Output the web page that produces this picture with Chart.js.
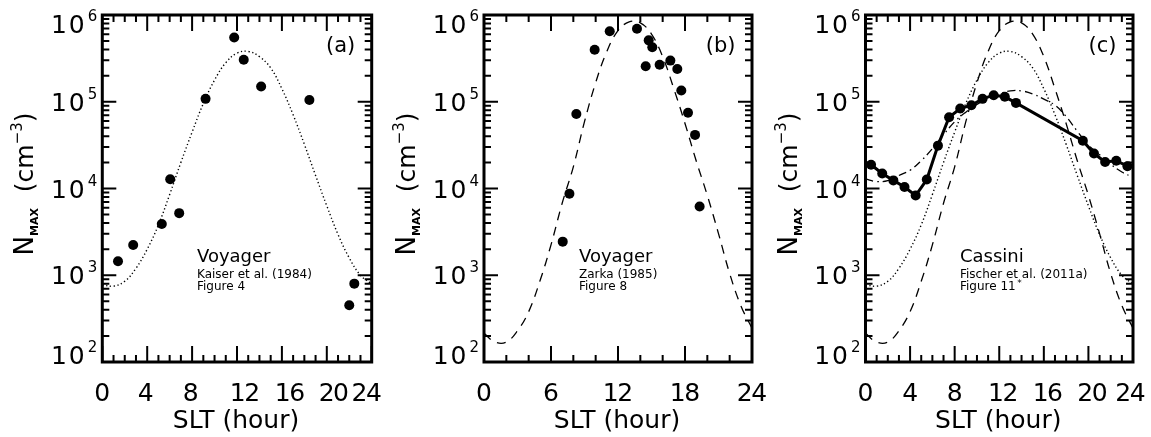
<!DOCTYPE html>
<html>
<head>
<meta charset="utf-8">
<script src="https://cdn.jsdelivr.net/npm/chart.js@4.4.1/dist/chart.umd.min.js"></script>
<style>
  html, body { margin: 0; padding: 0; background: #fff; }
  #wrap { position: relative; width: 1151px; height: 437px; overflow: hidden; background: #fff; }
  #wrap canvas { position: absolute; left: 0; top: 0; }
</style>
</head>
<body>
<div id="wrap">
  <canvas id="pa" width="1151" height="437"></canvas>
  <canvas id="pb" width="1151" height="437"></canvas>
  <canvas id="pc" width="1151" height="437"></canvas>
</div>
<script>
// ---------------------------------------------------------------
// Data
// ---------------------------------------------------------------
// Model curves sampled once per hour of Saturn local time (log10 N_MAX)
const curveHours = [0,1,2,3,4,5,6,7,8,9,10,11,12,13,14,15,16,17,18,19,20,21,22,23,24];
const dottedLog10 = [2.89,2.875,2.93,3.08,3.30,3.58,3.93,4.30,4.65,4.98,5.25,5.45,5.56,5.58,5.52,5.39,5.15,4.85,4.51,4.15,3.80,3.47,3.20,3.00,2.90];
const dashedLog10 = [2.33,2.23,2.23,2.36,2.58,2.93,3.35,3.83,4.25,4.77,5.22,5.58,5.82,5.92,5.91,5.78,5.52,5.15,4.75,4.32,3.92,3.48,3.02,2.65,2.39];
const dashDotLog10 = [4.11,4.08,4.09,4.15,4.21,4.32,4.46,4.62,4.77,4.88,4.97,5.04,5.09,5.125,5.125,5.09,5.03,4.96,4.83,4.66,4.50,4.39,4.28,4.19,4.13];

// Voyager, Kaiser et al. (1984)
const aHours = [1.4, 2.75, 5.3, 6.05, 6.85, 9.2, 11.75, 12.6, 14.15, 18.45, 22.0, 22.45];
const aNmax  = [1450, 2230, 3900, 12800, 5200, 108000, 550000, 305000, 150000, 105000, 450, 800];

// Voyager, Zarka (1985)
const bHours = [7.05, 7.65, 8.27, 9.91, 11.26, 13.7, 14.48, 14.75, 15.07, 15.73, 16.69, 17.31, 17.67, 18.27, 18.9, 19.31];
const bNmax  = [2440, 8700, 72300, 398000, 649000, 695000, 256000, 510000, 425000, 267000, 298000, 239000, 135000, 74800, 41500, 6200];

// Cassini, Fischer et al. (2011a)
const cHours = [0.5,1.5,2.5,3.5,4.5,5.5,6.5,7.5,8.5,9.5,10.5,11.5,12.5,13.5,19.5,20.5,21.5,22.5,23.5];
const cNmax  = [18800,14900,12400,10400,8300,12700,31200,66300,83400,91200,108000,119000,114000,97000,35600,25300,20200,20900,18100];

// Axis ticks
const xTicksAC = [0, 4, 8, 12, 16, 20, 24];
const xTicksB  = [0, 6, 12, 18, 24];
const yDecades = [2, 3, 4, 5, 6];

// ---------------------------------------------------------------
// Helpers
// ---------------------------------------------------------------
const W = 1151, H = 437;
const PLOT_TOP = 15, PLOT_BOTTOM = 362;
const FONT = '"DejaVu Sans", "Liberation Sans", sans-serif';

function pts(xs, ys) { return xs.map((x, i) => ({ x: x, y: ys[i] })); }
function logPts(xs, ls) { return xs.map((x, i) => ({ x: x, y: Math.pow(10, ls[i]) })); }

const curveStyles = {
  dotted:  { borderDash: [1.3, 2.5], borderWidth: 1.4 },
  dashed:  { borderDash: [9, 7],     borderWidth: 1.3 },
  dashDot: { borderDash: [8, 4, 1.5, 4], borderWidth: 1.3 }
};

function curve(data, style) {
  return Object.assign({
    data: data, showLine: true, borderColor: '#000', pointRadius: 0,
    tension: 0.4, fill: false, order: 2
  }, curveStyles[style]);
}
function dots(data) {
  return {
    data: data, showLine: false, pointRadius: 5, pointHoverRadius: 5,
    pointBackgroundColor: '#000', pointBorderColor: '#000', pointBorderWidth: 0, order: 0
  };
}

// Box, inward ticks, tick labels, titles and annotation text
const framePlugin = {
  id: 'frame',
  afterDatasetsDraw(chart, args, o) {
    const ctx = chart.ctx, a = chart.chartArea;
    const xs = chart.scales.x, ys = chart.scales.y;
    ctx.save();
    ctx.strokeStyle = '#000';
    ctx.fillStyle = '#000';
    ctx.lineCap = 'butt';

    // ticks on all four sides
    ctx.lineWidth = 2;
    ctx.beginPath();
    for (let h = 0; h <= 24; h += o.xMinor) {
      const px = xs.getPixelForValue(h);
      const len = (h % o.xMajor === 0) ? 16 : 7;
      ctx.moveTo(px, a.bottom); ctx.lineTo(px, a.bottom - len);
      ctx.moveTo(px, a.top);    ctx.lineTo(px, a.top + len);
    }
    yDecades.forEach(e => {
      for (let m = 1; m <= 9; m++) {
        if (e === yDecades[yDecades.length - 1] && m > 1) break;
        const py = ys.getPixelForValue(m * Math.pow(10, e));
        const len = (m === 1) ? 14 : 7;
        ctx.moveTo(a.left, py);  ctx.lineTo(a.left + len, py);
        ctx.moveTo(a.right, py); ctx.lineTo(a.right - len, py);
      }
    });
    ctx.stroke();

    // plot box
    ctx.lineWidth = 3;
    ctx.strokeRect(a.left, a.top, a.right - a.left, a.bottom - a.top);

    // x tick labels
    ctx.font = '25px ' + FONT;
    ctx.textAlign = 'center';
    ctx.textBaseline = 'alphabetic';
    ctx.letterSpacing = '-1.5px';
    o.xTicks.forEach(t => {
      const shift = (o.xShift && o.xShift[t]) || 0;
      ctx.fillText(String(t), xs.getPixelForValue(t) + shift - 0.75, 401);
    });
    ctx.letterSpacing = '0px';

    // y tick labels: 10 with superscript exponent
    yDecades.forEach(e => {
      const py = ys.getPixelForValue(Math.pow(10, e));
      const mid = Math.min(Math.max(py, a.top + 9), a.bottom - 7);
      const base = mid + 9;
      const xr = a.left - 5;
      ctx.textAlign = 'right';
      ctx.font = '15px ' + FONT;
      const ew = ctx.measureText(String(e)).width;
      ctx.fillText(String(e), xr, base - 12);
      ctx.font = '25px ' + FONT;
      ctx.letterSpacing = '2px';
      ctx.fillText('10', xr - ew - 1, base);
      ctx.letterSpacing = '0px';
    });

    // x title
    ctx.textAlign = 'center';
    ctx.font = '25px ' + FONT;
    ctx.fillText('SLT (hour)', (a.left + a.right) / 2 - 1, 428);

    // y title, rotated
    const segs = [
      { t: 'N',   f: '26px ' + FONT,      dy: 0 },
      { t: 'MAX', f: 'bold 11px ' + FONT, dy: 5 },
      { t: '  (cm', f: '25px ' + FONT,    dy: 0 },
      { t: '\u22123', f: '15px ' + FONT,  dy: -11 },
      { t: ')',   f: '25px ' + FONT,      dy: 0 }
    ];
    ctx.save();
    ctx.translate(a.left - 69, 184);
    ctx.rotate(-Math.PI / 2);
    ctx.textAlign = 'left';
    let total = 0;
    segs.forEach(s => { ctx.font = s.f; s.w = ctx.measureText(s.t).width; total += s.w; });
    let cx = -total / 2;
    segs.forEach(s => { ctx.font = s.f; ctx.fillText(s.t, cx, s.dy); cx += s.w; });
    ctx.restore();

    // panel letter
    ctx.textAlign = 'right';
    ctx.font = '21px ' + FONT;
    ctx.fillText(o.letter, a.right - 16.5, 52);

    // source annotation
    ctx.textAlign = 'left';
    ctx.font = '18px ' + FONT;
    ctx.fillText(o.mission, o.noteX, 261.5);
    ctx.font = '12px ' + FONT;
    ctx.fillText(o.ref, o.noteX, 277.5);
    ctx.fillText(o.fig, o.noteX, 290);
    if (o.figMark) {
      const fw = ctx.measureText(o.fig).width;
      ctx.font = '9px ' + FONT;
      ctx.fillText(o.figMark, o.noteX + fw + 1.5, 286);
    }
    ctx.restore();
  }
};

function makePanel(id, left, right, datasets, frameOpts) {
  return new Chart(document.getElementById(id), {
    type: 'line',
    data: { datasets: datasets },
    options: {
      responsive: false,
      animation: false,
      devicePixelRatio: 1,
      events: [],
      layout: { padding: { left: left, right: W - right, top: PLOT_TOP, bottom: H - PLOT_BOTTOM } },
      plugins: { legend: { display: false }, tooltip: { enabled: false }, frame: frameOpts },
      scales: {
        x: { type: 'linear', min: 0, max: 24, display: false },
        y: { type: 'logarithmic', min: 100, max: 1e6, display: false }
      }
    },
    plugins: [framePlugin]
  });
}

// (a) Voyager, Kaiser et al. (1984)
makePanel('pa', 102.3, 371.7, [
  curve(logPts(curveHours, dottedLog10), 'dotted'),
  dots(pts(aHours, aNmax))
], {
  xTicks: xTicksAC, xMajor: 4, xMinor: 1, xShift: { 4: -1.5, 8: -1.5, 12: 8, 16: 8, 20: 7, 24: -5 },
  letter: '(a)', mission: 'Voyager', ref: 'Kaiser et al. (1984)', fig: 'Figure 4', noteX: 197
});

// (b) Voyager, Zarka (1985)
makePanel('pb', 484, 752, [
  curve(logPts(curveHours, dashedLog10), 'dashed'),
  dots(pts(bHours, bNmax))
], {
  xTicks: xTicksB, xMajor: 6, xMinor: 2,
  letter: '(b)', mission: 'Voyager', ref: 'Zarka (1985)', fig: 'Figure 8', noteX: 579
});

// (c) Cassini, Fischer et al. (2011a), with both model curves for comparison
makePanel('pc', 865.5, 1133, [
  curve(logPts(curveHours, dashedLog10), 'dashed'),
  curve(logPts(curveHours, dottedLog10), 'dotted'),
  curve(logPts(curveHours, dashDotLog10), 'dashDot'),
  Object.assign(dots(pts(cHours, cNmax)), { showLine: true, borderColor: '#000', borderWidth: 3, tension: 0 })
], {
  xTicks: xTicksAC, xMajor: 4, xMinor: 1, xShift: { 12: 4, 16: 4, 20: 4, 24: -2.5 },
  letter: '(c)', mission: 'Cassini', ref: 'Fischer et al. (2011a)', fig: 'Figure 11', figMark: '*', noteX: 960
});
</script>
</body>
</html>
